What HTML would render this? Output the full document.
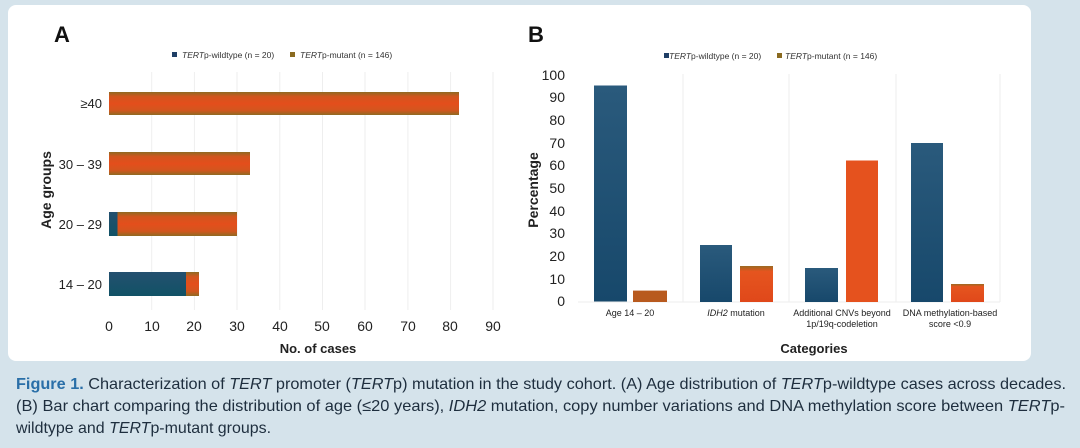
<!DOCTYPE html>
<html><head><meta charset="utf-8"><style>
html,body{margin:0;padding:0;background:#d5e3eb;}
svg{display:block;font-family:"Liberation Sans",sans-serif;}
</style></head><body>
<svg width="1080" height="448" viewBox="0 0 1080 448" xmlns="http://www.w3.org/2000/svg">
<defs>
<linearGradient id="bl" x1="0" y1="0" x2="0" y2="1"><stop offset="0" stop-color="#2a5a7c"/><stop offset="1" stop-color="#17486b"/></linearGradient>
<linearGradient id="orv" x1="0" y1="0" x2="0" y2="1"><stop offset="0" stop-color="#9a6a22"/><stop offset="0.15" stop-color="#e5551f"/><stop offset="1" stop-color="#e0481a"/></linearGradient>
<linearGradient id="orh" x1="0" y1="0" x2="0" y2="1"><stop offset="0" stop-color="#8f6a22"/><stop offset="0.2" stop-color="#d2561e"/><stop offset="0.5" stop-color="#e44e1c"/><stop offset="0.8" stop-color="#d2561e"/><stop offset="1" stop-color="#8f6a22"/></linearGradient>
<linearGradient id="blh" x1="0" y1="0" x2="0" y2="1"><stop offset="0" stop-color="#24506f"/><stop offset="1" stop-color="#115266"/></linearGradient>
</defs>
<rect x="0" y="0" width="1080" height="448" fill="#d5e3eb"/>
<rect x="8" y="5" width="1023" height="356" rx="8" fill="#ffffff"/>

<!-- Panel A -->
<text x="54" y="42" font-size="22" font-weight="bold" fill="#111">A</text>
<rect x="172" y="52" width="5" height="5" fill="#1f3f66"/>
<text x="182" y="58" font-size="8.5" fill="#333"><tspan font-style="italic">TERT</tspan>p-wildtype (n = 20)</text>
<rect x="290" y="52" width="5" height="5" fill="#8a6a20"/>
<text x="300" y="58" font-size="8.5" fill="#333"><tspan font-style="italic">TERT</tspan>p-mutant (n = 146)</text>
<g stroke="#eeeeee" stroke-width="1">
<line x1="151.7" y1="72" x2="151.7" y2="310"/><line x1="194.4" y1="72" x2="194.4" y2="310"/><line x1="237" y1="72" x2="237" y2="310"/><line x1="279.8" y1="72" x2="279.8" y2="310"/><line x1="322.5" y1="72" x2="322.5" y2="310"/><line x1="365" y1="72" x2="365" y2="310"/><line x1="407.9" y1="72" x2="407.9" y2="310"/><line x1="450.6" y1="72" x2="450.6" y2="310"/><line x1="493" y1="72" x2="493" y2="310"/>
</g>
<rect x="109" y="92" width="350" height="23" fill="url(#orh)"/>
<rect x="109" y="152" width="141" height="23" fill="url(#orh)"/>
<rect x="109" y="212" width="128" height="24" fill="url(#orh)"/>
<rect x="109" y="212" width="8.5" height="24" fill="url(#blh)"/>
<rect x="109" y="272" width="90" height="24" fill="url(#orh)"/>
<rect x="109" y="272" width="77" height="24" fill="url(#blh)"/>
<g font-size="13" fill="#222" text-anchor="end">
<text x="102" y="108">≥40</text><text x="102" y="169">30 – 39</text><text x="102" y="229">20 – 29</text><text x="102" y="289">14 – 20</text>
</g>
<text transform="translate(51,190) rotate(-90)" font-size="14" font-weight="bold" fill="#222" text-anchor="middle">Age groups</text>
<g font-size="14" fill="#222" text-anchor="middle">
<text x="109" y="331">0</text><text x="152" y="331">10</text><text x="194" y="331">20</text><text x="237" y="331">30</text><text x="280" y="331">40</text><text x="322" y="331">50</text><text x="365" y="331">60</text><text x="408" y="331">70</text><text x="450" y="331">80</text><text x="493" y="331">90</text>
</g>
<text x="318" y="353" font-size="13" font-weight="bold" fill="#222" text-anchor="middle">No. of cases</text>

<!-- Panel B -->
<text x="528" y="42" font-size="22" font-weight="bold" fill="#111">B</text>
<rect x="664" y="53" width="5" height="5" fill="#1f3f66"/>
<text x="669" y="59" font-size="8.5" fill="#333"><tspan font-style="italic">TERT</tspan>p-wildtype (n = 20)</text>
<rect x="777" y="53" width="5" height="5" fill="#8a6a20"/>
<text x="785" y="59" font-size="8.5" fill="#333"><tspan font-style="italic">TERT</tspan>p-mutant (n = 146)</text>
<g stroke="#eeeeee" stroke-width="1">
<line x1="683" y1="74" x2="683" y2="302"/><line x1="789" y1="74" x2="789" y2="302"/><line x1="896" y1="74" x2="896" y2="302"/><line x1="1000" y1="74" x2="1000" y2="302"/>
<line x1="578" y1="302" x2="1000" y2="302"/>
</g>
<g font-size="14" fill="#222" text-anchor="end">
<text x="565" y="80">100</text><text x="565" y="102">90</text><text x="565" y="125">80</text><text x="565" y="148">70</text><text x="565" y="170">60</text><text x="565" y="193">50</text><text x="565" y="216">40</text><text x="565" y="238">30</text><text x="565" y="261">20</text><text x="565" y="284">10</text><text x="565" y="306">0</text>
</g>
<text transform="translate(538,190) rotate(-90)" font-size="14" font-weight="bold" fill="#222" text-anchor="middle">Percentage</text>
<rect x="594" y="85.5" width="33" height="216" fill="url(#bl)"/>
<rect x="633" y="290.6" width="34" height="11.4" fill="#b85a1e"/>
<rect x="700" y="245" width="32" height="57" fill="url(#bl)"/>
<rect x="740" y="266" width="33" height="36" fill="url(#orv)"/>
<rect x="805" y="268" width="33" height="34" fill="url(#bl)"/>
<rect x="846" y="160.5" width="32" height="141.5" fill="#e5521e"/>
<rect x="911" y="143" width="32" height="159" fill="url(#bl)"/>
<rect x="951" y="284" width="33" height="18" fill="url(#orv)"/>
<g font-size="9" fill="#222" text-anchor="middle">
<text x="630" y="316">Age 14 – 20</text>
<text x="736" y="316"><tspan font-style="italic">IDH2</tspan> mutation</text>
<text x="842" y="316">Additional CNVs beyond</text><text x="842" y="327">1p/19q-codeletion</text>
<text x="950" y="316">DNA methylation-based</text><text x="950" y="327">score &lt;0.9</text>
</g>
<text x="814" y="353" font-size="13" font-weight="bold" fill="#222" text-anchor="middle">Categories</text>

<!-- Caption -->
<g font-size="16" fill="#1e2e3e">
<text x="16" y="389" textLength="1050" lengthAdjust="spacingAndGlyphs"><tspan fill="#2a6fa8" font-weight="bold">Figure 1.</tspan>    Characterization of <tspan font-style="italic">TERT</tspan> promoter (<tspan font-style="italic">TERT</tspan>p) mutation in the study cohort. (A) Age distribution of <tspan font-style="italic">TERT</tspan>p-wildtype cases across decades.</text>
<text x="16" y="411" textLength="1049" lengthAdjust="spacingAndGlyphs">(B) Bar chart comparing the distribution of age (≤20 years), <tspan font-style="italic">IDH2</tspan> mutation, copy number variations and DNA methylation score between <tspan font-style="italic">TERT</tspan>p-</text>
<text x="16" y="433" textLength="255" lengthAdjust="spacingAndGlyphs">wildtype and <tspan font-style="italic">TERT</tspan>p-mutant groups.</text>
</g>
</svg>
</body></html>
